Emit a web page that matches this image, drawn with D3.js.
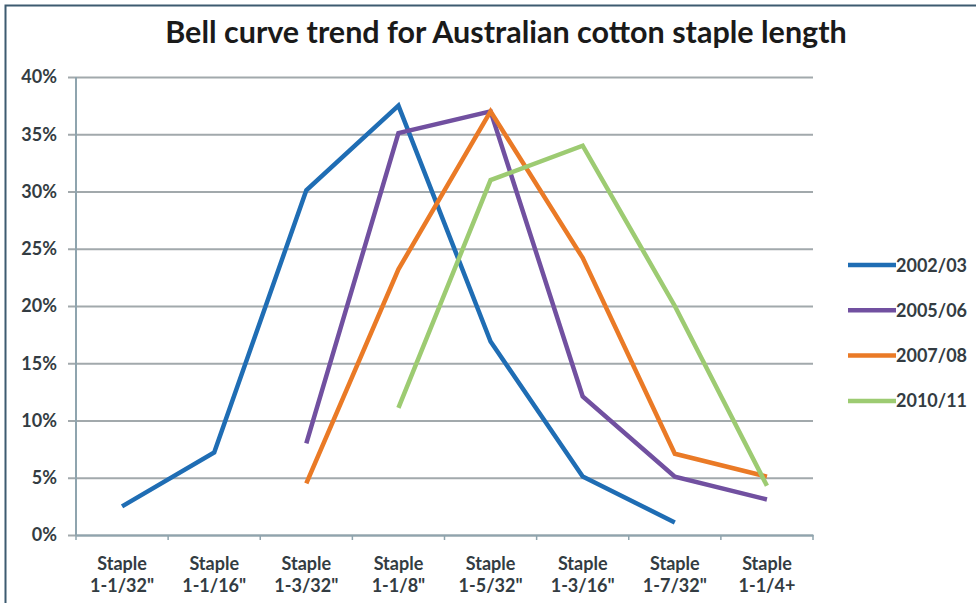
<!DOCTYPE html>
<html>
<head>
<meta charset="utf-8">
<script src="https://cdn.jsdelivr.net/npm/d3@7"></script>
<style>
  html, body { margin: 0; padding: 0; background: #ffffff; }
  svg { display: block; }
</style>
</head>
<body>
<svg id="chart" width="976" height="603"></svg>
<script>
// Staple length classes on the horizontal axis
const categories = ["Staple\n1-1/32\"", "Staple\n1-1/16\"", "Staple\n1-3/32\"", "Staple\n1-1/8\"",
                    "Staple\n1-5/32\"", "Staple\n1-3/16\"", "Staple\n1-7/32\"", "Staple\n1-1/4+"];

// Share of crop (%) per staple class; null where a season has no value
const season2002 = [2.5, 7.2, 30.1, 37.5, 16.9, 5.1, 1.1, null];
const season2005 = [null, null, 8.0, 35.1, 37.0, 12.1, 5.1, 3.1];
const season2007 = [null, null, 4.5, 23.2, 37.0, 24.2, 7.1, 5.1];
const season2010 = [null, null, null, 11.1, 31.0, 34.0, 20.0, 4.3];

const seriesNames = ["2002/03", "2005/06", "2007/08", "2010/11"];
const yTicks = [0, 5, 10, 15, 20, 25, 30, 35, 40];

const series = [
  { name: seriesNames[0], values: season2002, color: "#1f6db4" },
  { name: seriesNames[1], values: season2005, color: "#7150a0" },
  { name: seriesNames[2], values: season2007, color: "#ea7a26" },
  { name: seriesNames[3], values: season2010, color: "#9dcb72" }
];

const svg = d3.select("#chart");
const plot = { left: 76, right: 813, top: 77, bottom: 535 };
const textColor = "#333c42";
const fontFamily = "Lato, 'Open Sans', sans-serif";

// Outer frame (top and left edges)
svg.append("path")
  .attr("d", "M5.5,603 L5.5,5.5 L976,5.5")
  .attr("fill", "none")
  .attr("stroke", "#3d5b70")
  .attr("stroke-width", 2);

// Title
svg.append("text")
  .attr("x", 506)
  .attr("y", 43)
  .attr("text-anchor", "middle")
  .attr("font-family", fontFamily)
  .attr("font-weight", 700)
  .attr("font-size", 30.5)
  .attr("fill", "#1a1a1a")
  .text("Bell curve trend for Australian cotton staple length");

const x = d3.scaleBand().domain(d3.range(categories.length)).range([plot.left, plot.right]);
const y = d3.scaleLinear().domain([0, 40]).range([plot.bottom, plot.top]);

// Horizontal gridlines with ticks sticking out to the left of the axis
const yAxis = d3.axisLeft(y)
  .tickValues(yTicks)
  .tickSize(-(plot.right - plot.left))
  .tickFormat(d => d + "%")
  .tickPadding(19);

const gy = svg.append("g")
  .attr("transform", `translate(${plot.left},0)`)
  .call(yAxis);
gy.select(".domain").remove();
gy.selectAll(".tick line")
  .attr("x1", -8)
  .attr("stroke", "#a2a9ac")
  .attr("stroke-width", 2);
gy.selectAll(".tick text")
  .attr("font-family", fontFamily)
  .attr("font-weight", 700)
  .attr("font-size", 18)
  .attr("fill", textColor);

// Vertical axis line
svg.append("line")
  .attr("x1", plot.left).attr("x2", plot.left)
  .attr("y1", plot.top).attr("y2", plot.bottom)
  .attr("stroke", "#8fa4ae")
  .attr("stroke-width", 2);

// Horizontal axis with category boundary ticks
const xAxis = d3.axisBottom(x).tickSize(0).tickFormat(() => "");
const gx = svg.append("g")
  .attr("transform", `translate(0,${plot.bottom})`)
  .call(xAxis);
gx.select(".domain")
  .attr("stroke", "#8fa4ae")
  .attr("stroke-width", 2);
gx.selectAll(".tick").remove();

const bounds = d3.range(categories.length + 1).map(i => plot.left + i * x.step());
gx.selectAll("line.bound")
  .data(bounds)
  .join("line")
  .attr("class", "bound")
  .attr("x1", d => d).attr("x2", d => d)
  .attr("y1", 0).attr("y2", 5)
  .attr("stroke", "#8fa4ae")
  .attr("stroke-width", 1.5);

// Category labels on two lines
const cx = i => x(i) + x.bandwidth() / 2;
const labels = svg.append("g");
categories.forEach((c, i) => {
  const t = labels.append("text")
    .attr("x", cx(i))
    .attr("y", 570)
    .attr("text-anchor", "middle")
    .attr("font-family", fontFamily)
    .attr("font-weight", 700)
    .attr("font-size", 18)
    .attr("fill", textColor);
  c.split("\n").forEach((part, k) => {
    t.append("tspan").attr("x", cx(i)).attr("dy", k === 0 ? 0 : 22).text(part);
  });
});

// Series lines
const line = d3.line()
  .defined(d => d != null)
  .x((d, i) => cx(i))
  .y(d => y(d));

svg.append("g")
  .selectAll("path")
  .data(series)
  .join("path")
  .attr("d", s => line(s.values))
  .attr("fill", "none")
  .attr("stroke", s => s.color)
  .attr("stroke-width", 4.5)
  .attr("stroke-linejoin", "miter");

// Legend
const legend = svg.append("g");
series.forEach((s, i) => {
  const ly = 265 + i * 45.3;
  legend.append("line")
    .attr("x1", 848).attr("x2", 896)
    .attr("y1", ly).attr("y2", ly)
    .attr("stroke", s.color)
    .attr("stroke-width", 4.5);
  legend.append("text")
    .attr("x", 896)
    .attr("y", ly + 6.5)
    .attr("font-family", fontFamily)
    .attr("font-weight", 700)
    .attr("font-size", 18)
    .attr("fill", textColor)
    .text(s.name);
});
</script>
</body>
</html>
